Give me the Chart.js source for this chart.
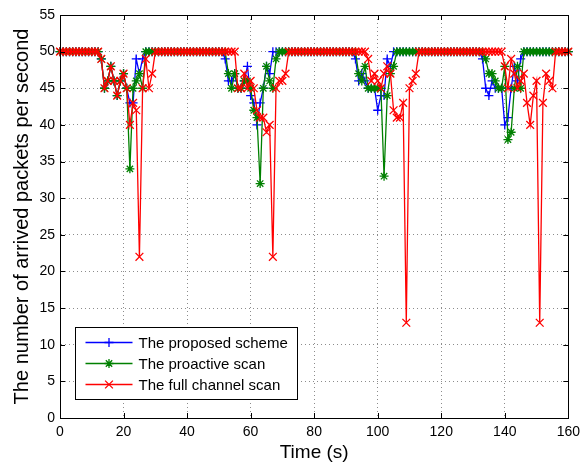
<!DOCTYPE html>
<html>
<head>
<meta charset="utf-8">
<title>Arrived packets per second</title>
<script src="https://cdn.jsdelivr.net/npm/chart.js@4.4.0/dist/chart.umd.min.js"></script>
<style>
	html, body { margin: 0; padding: 0; background: #fff; }
</style>
</head>
<body>
<canvas id="chart" width="586" height="464"></canvas>
<script>
// time axis, one sample per second
const times = [];
for (let t = 0; t <= 160; t++) times.push(t);

const xTicks = [0, 20, 40, 60, 80, 100, 120, 140, 160];
const yTicks = [0, 5, 10, 15, 20, 25, 30, 35, 40, 45, 50, 55];

const seriesNames = ['The proposed scheme', 'The proactive scan', 'The full channel scan'];

const proposed = [
	50, 50, 50, 50, 50, 50, 50, 50, 50, 50, 50, 50, 50, // 0-12
	49, 45, 46, 48, 46, 44, 46, 47, // 13-20
	45, 43, 43, 49, 47, 49, // 21-26
	50, 50, 50, 50, 50, 50, 50, 50, 50, 50, 50, 50, 50, 50, 50, 50, 50, 50, 50, 50, 50, 50, 50, 50, 50, // 27-51
	49, 46, 46, 47, 45, 45, 46, 48, 44, 43, 40, 43, 45, 48, 47, // 52-66
	50, 50, 50, 50, 50, 50, 50, 50, 50, 50, 50, 50, 50, 50, 50, 50, 50, 50, 50, 50, 50, 50, 50, 50, 50, 50, // 67-92
	49, 46, 47, 46, 45, 45, 45, 42, 44, 44, 49, 48, // 93-104
	50, 50, 50, 50, 50, 50, 50, 50, 50, 50, 50, 50, 50, 50, 50, 50, 50, 50, 50, 50, 50, 50, 50, 50, 50, 50, 50, 50, // 105-132
	49, 45, 44, 46, 45, 45, 45, 40, 41, 45, 48, 46, 49, // 133-145
	50, 50, 50, 50, 50, 50, 50, 50, 50, 50, 50, 50, 50, 50, 50, // 146-160
];

const proactive = [
	50, 50, 50, 50, 50, 50, 50, 50, 50, 50, 50, 50, 50, // 0-12
	49, 45, 46, 48, 46, 44, 46, 47, 45, 34, 45, 46, 47, 45, // 13-26
	50, 50, 50, 50, 50, 50, 50, 50, 50, 50, 50, 50, 50, 50, 50, 50, 50, 50, 50, 50, 50, 50, 50, 50, 50, 50, // 27-52
	47, 45, 47, 45, 45, 46, 46, 45, 42, 41, 32, 45, 48, 46, 45, 49, // 53-68
	50, 50, 50, 50, 50, 50, 50, 50, 50, 50, 50, 50, 50, 50, 50, 50, 50, 50, 50, 50, 50, 50, 50, 50, 50, // 69-93
	47, 46, 48, 45, 45, 45, 45, 45, 33, 44, 47, 48, // 94-105
	50, 50, 50, 50, 50, 50, 50, 50, 50, 50, 50, 50, 50, 50, 50, 50, 50, 50, 50, 50, 50, 50, 50, 50, 50, 50, 50, 50, // 106-133
	49, 47, 47, 46, 45, 45, 48, 38, 39, 45, 48, 45, // 134-145
	50, 50, 50, 50, 50, 50, 50, 50, 50, 50, 50, 50, 50, 50, 50, // 146-160
];

const fullScan = [
	50, 50, 50, 50, 50, 50, 50, 50, 50, 50, 50, 50, 50, // 0-12
	49, 45, 46, 48, 46, 44, 46, 47, 45, 40, 43, 42, 22, 45, 49, 45, 47, // 13-29
	50, 50, 50, 50, 50, 50, 50, 50, 50, 50, 50, 50, 50, 50, 50, 50, 50, 50, 50, 50, 50, 50, 50, 50, 50, 50, // 30-55
	45, 45, 47, 45, 46, 45, 42, 41, 41, 39, 40, 22, 45, 46, 46, 47, // 56-71
	50, 50, 50, 50, 50, 50, 50, 50, 50, 50, 50, 50, 50, 50, 50, 50, 50, 50, 50, 50, 50, 50, 50, 50, 50, // 72-96
	49, 46, 47, 46, 45, 47, 48, 47, 42, 41, 41, 43, 13, 45, 46, 47, // 97-112
	50, 50, 50, 50, 50, 50, 50, 50, 50, 50, 50, 50, 50, 50, 50, 50, 50, 50, 50, 50, 50, 50, 50, 50, 50, 50, 50, // 113-139
	48, 45, 49, 47, 45, 46, 47, 43, 40, 44, 46, 13, 43, 47, 46, 45, // 140-155
	50, 50, 50, 50, 50, // 156-160
];

const colors = ['#0000ff', '#008000', '#ff0000'];
const markers = ['cross', 'star', 'crossRot'];
const markerSizes = [4.5, 4.5, 5.5];
const FONT = '"Liberation Sans", Arial, sans-serif';

function drawMarker(ctx, style, x, y, r) {
	ctx.beginPath();
	if (style === 'cross' || style === 'star') {
		ctx.moveTo(x - r, y); ctx.lineTo(x + r, y);
		ctx.moveTo(x, y - r); ctx.lineTo(x, y + r);
	}
	if (style === 'crossRot' || style === 'star') {
		const d = r * 0.7071;
		ctx.moveTo(x - d, y - d); ctx.lineTo(x + d, y + d);
		ctx.moveTo(x - d, y + d); ctx.lineTo(x + d, y - d);
	}
	ctx.stroke();
}

// matlab style frame: box, inward ticks and legend inside the axes
const matlabFrame = {
	id: 'matlabFrame',
	afterDraw(chart) {
		const { ctx, chartArea: a, scales: { x, y } } = chart;
		ctx.save();
		ctx.strokeStyle = '#000';
		ctx.lineWidth = 1;
		ctx.setLineDash([]);
		ctx.beginPath();
		x.ticks.forEach((t) => {
			const px = Math.round(x.getPixelForValue(t.value)) + 0.5;
			ctx.moveTo(px, a.bottom); ctx.lineTo(px, a.bottom - 5);
			ctx.moveTo(px, a.top); ctx.lineTo(px, a.top + 5);
		});
		y.ticks.forEach((t) => {
			const py = Math.round(y.getPixelForValue(t.value)) + 0.5;
			ctx.moveTo(a.left, py); ctx.lineTo(a.left + 5, py);
			ctx.moveTo(a.right, py); ctx.lineTo(a.right - 5, py);
		});
		ctx.stroke();
		ctx.strokeRect(Math.round(a.left) + 0.5, Math.round(a.top) + 0.5, Math.round(a.width), Math.round(a.height));

		// legend
		const bx = Math.round(a.left) + 15.5;
		const by = Math.round(a.bottom) - 90.5;
		const bw = 222;
		const bh = 72;
		ctx.fillStyle = '#fff';
		ctx.fillRect(bx, by, bw, bh);
		ctx.strokeRect(bx, by, bw, bh);
		ctx.font = `15px ${FONT}`;
		ctx.textBaseline = 'middle';
		seriesNames.forEach((name, i) => {
			const ry = by + 15 + i * 21;
			ctx.strokeStyle = colors[i];
			ctx.lineWidth = 1.3;
			ctx.beginPath();
			ctx.moveTo(bx + 10, ry); ctx.lineTo(bx + 57, ry);
			ctx.stroke();
			drawMarker(ctx, markers[i], bx + 33.5, ry, markerSizes[i]);
			ctx.fillStyle = '#000';
			ctx.fillText(name, bx + 63, ry + 1);
		});
		ctx.restore();
	},
};

const series = [proposed, proactive, fullScan];
const datasets = series.map((values, i) => ({
	label: seriesNames[i],
	data: values,
	borderColor: colors[i],
	backgroundColor: colors[i],
	borderWidth: 1.3,
	pointStyle: markers[i],
	pointRadius: markerSizes[i],
	pointBorderWidth: 1.3,
	pointBorderColor: colors[i],
	tension: 0,
	clip: false,
	order: 3 - i, // red drawn on top
}));

const ctx = document.getElementById('chart').getContext('2d');
new Chart(ctx, {
	type: 'line',
	data: { labels: times, datasets: datasets },
	plugins: [matlabFrame],
	options: {
		responsive: false,
		animation: false,
		devicePixelRatio: 1,
		layout: { padding: { top: 15, right: 13, left: 0, bottom: 0 } },
		plugins: { legend: { display: false }, tooltip: { enabled: false } },
		scales: {
			x: {
				type: 'linear',
				min: 0,
				max: 160,
				afterBuildTicks: (s) => { s.ticks = xTicks.map((v) => ({ value: v })); },
				afterFit: (s) => { s.height = 46; },
				ticks: { color: '#000', font: { family: FONT, size: 14 }, padding: 6, maxRotation: 0 },
				grid: { color: '#8c8c8c', drawTicks: false },
				border: { display: true, color: '#000', dash: [1, 3] },
				title: { display: true, text: 'Time (s)', color: '#000', font: { family: FONT, size: 19 }, padding: { top: 0, bottom: 0 } },
			},
			y: {
				min: 0,
				max: 55,
				afterBuildTicks: (s) => { s.ticks = yTicks.map((v) => ({ value: v })); },
				afterFit: (s) => { s.width = 60; },
				ticks: { color: '#000', font: { family: FONT, size: 14 }, padding: 5 },
				grid: { color: '#8c8c8c', drawTicks: false },
				border: { display: true, color: '#000', dash: [1, 3] },
				title: { display: true, text: 'The number of arrived packets per second', color: '#000', font: { family: FONT, size: 20 }, padding: { top: 10, bottom: 0 } },
			},
		},
	},
});
</script>
</body>
</html>
